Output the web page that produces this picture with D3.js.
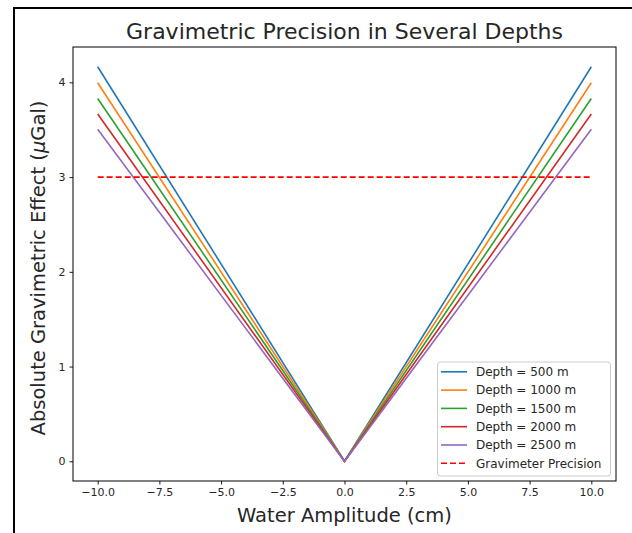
<!DOCTYPE html>
<html>
  <head>
    <meta charset="utf-8">
    <script src="https://d3js.org/d3.v7.min.js"></script>
    <style>
      body { margin: 0; background: #fff; }
      svg text { font-family: "DejaVu Sans", sans-serif; fill: #262626; }
      .axis path, .axis line { stroke: #000; }
    </style>
  </head>
  <body>
    <svg id="chart" width="632" height="533"></svg>
    <script>
      // values
      const amplitudes = [-10, 0, 10];
      const depths = ['Depth = 500 m', 'Depth = 1000 m', 'Depth = 1500 m', 'Depth = 2000 m', 'Depth = 2500 m'];
      const effect500 = [4.165, 0, 4.165];
      const effect1000 = [3.995, 0, 3.995];
      const effect1500 = [3.83, 0, 3.83];
      const effect2000 = [3.665, 0, 3.665];
      const effect2500 = [3.505, 0, 3.505];
      const precisionX = [-10, 10];
      const precisionY = [3, 3];
      const xTicks = [-10, -7.5, -5, -2.5, 0, 2.5, 5, 7.5, 10];
      const yTicks = [0, 1, 2, 3, 4];

      const series = [effect500, effect1000, effect1500, effect2000, effect2500];
      const colors = ['#1f77b4', '#ff7f0e', '#2ca02c', '#d62728', '#9467bd'];

      const svg = d3.select('svg#chart');
      const margins = {top: 47, right: 16, bottom: 52, left: 73};
      const chartWidth = 632 - margins.left - margins.right;
      const chartHeight = 533 - margins.top - margins.bottom;

      // outer notebook frame
      svg.append('path')
        .attr('d', 'M14,540 L14,8 L640,8')
        .attr('fill', 'none')
        .attr('stroke', '#000')
        .attr('stroke-width', 2);

      let chartArea = svg.append('g')
        .attr('transform', `translate(${margins.left},${margins.top})`);

      const xScale = d3.scaleLinear().domain([-11, 11]).range([0, chartWidth]);
      const yScale = d3.scaleLinear().domain([-0.208, 4.373]).range([chartHeight, 0]);

      const fmtX = d => d3.format('.1f')(d).replace('-', '\u2212');
      let bottomAxis = d3.axisBottom(xScale).tickValues(xTicks).tickFormat(fmtX).tickSize(3.5).tickPadding(4);
      chartArea.append('g')
        .attr('class', 'x axis')
        .attr('transform', `translate(0,${chartHeight})`)
        .call(bottomAxis);

      let leftAxis = d3.axisLeft(yScale).tickValues(yTicks).tickFormat(d3.format('d')).tickSize(3.5).tickPadding(4);
      chartArea.append('g')
        .attr('class', 'y axis')
        .call(leftAxis);

      chartArea.selectAll('.axis .domain').remove();
      chartArea.selectAll('.axis text').attr('font-size', 11).attr('font-family', 'DejaVu Sans').attr('fill', '#262626');
      chartArea.selectAll('.axis line').attr('stroke-width', 0.9);

      // box around the plot
      chartArea.append('rect')
        .attr('width', chartWidth).attr('height', chartHeight)
        .attr('fill', 'none').attr('stroke', '#000').attr('stroke-width', 1);

      const line = d3.line()
        .x((d, i) => xScale(amplitudes[i]))
        .y(d => yScale(d));

      series.forEach((s, i) => {
        chartArea.append('path')
          .datum(s)
          .attr('d', line)
          .attr('fill', 'none')
          .attr('stroke', colors[i])
          .attr('stroke-width', 1.6);
      });

      chartArea.append('path')
        .datum(precisionY)
        .attr('d', d3.line().x((d, i) => xScale(precisionX[i])).y(d => yScale(d)))
        .attr('fill', 'none')
        .attr('stroke', '#ff0000')
        .attr('stroke-width', 1.6)
        .attr('stroke-dasharray', '6,3');

      // legend
      const legend = svg.append('g').attr('transform', 'translate(437.5,362)');
      legend.append('rect')
        .attr('width', 173).attr('height', 114).attr('rx', 3)
        .attr('fill', '#fff').attr('fill-opacity', 0.8)
        .attr('stroke', '#ccc').attr('stroke-width', 1);
      const labels = depths.concat(['Gravimeter Precision']);
      labels.forEach((name, i) => {
        const y = 9.8 + i * 18.3;
        legend.append('line')
          .attr('x1', 3.5).attr('x2', 29.5).attr('y1', y).attr('y2', y)
          .attr('stroke', i < colors.length ? colors[i] : '#ff0000')
          .attr('stroke-width', 1.6)
          .attr('stroke-dasharray', i < colors.length ? null : '6,3');
        legend.append('text')
          .attr('x', 38.5).attr('y', y + 4.3)
          .attr('font-size', 12)
          .text(name);
      });

      // titles
      svg.append('text')
        .attr('x', margins.left + chartWidth / 2).attr('y', 39)
        .attr('text-anchor', 'middle').attr('font-size', 22)
        .text('Gravimetric Precision in Several Depths');

      svg.append('text')
        .attr('x', margins.left + chartWidth / 2).attr('y', 522)
        .attr('text-anchor', 'middle').attr('font-size', 19.5)
        .text('Water Amplitude (cm)');

      const ylab = svg.append('text')
        .attr('transform', 'translate(45,268) rotate(-90)')
        .attr('text-anchor', 'middle').attr('font-size', 19.5);
      ylab.append('tspan').text('Absolute Gravimetric Effect (');
      ylab.append('tspan').attr('font-style', 'italic').text('\u03bc');
      ylab.append('tspan').text('Gal)');
    </script>
  </body>
</html>
